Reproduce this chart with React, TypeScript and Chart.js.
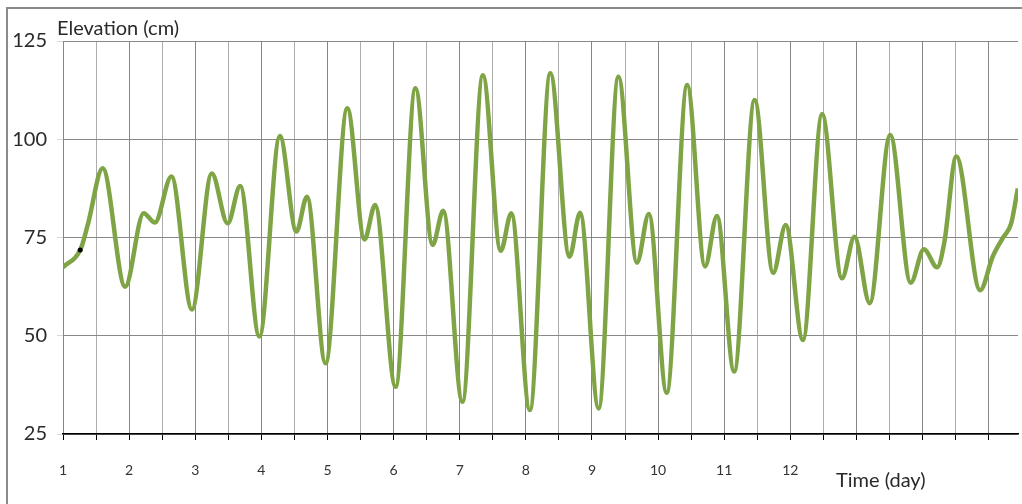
import React, { useEffect, useRef } from "react";
import { Chart, registerables } from "chart.js";

Chart.register(...registerables);

const days = [1.0, 1.27, 1.38, 1.6, 1.94, 2.22, 2.39, 2.64, 2.95, 3.25, 3.49, 3.68, 3.97, 4.28, 4.53, 4.69, 4.97, 5.3, 5.56, 5.72, 6.03, 6.33, 6.59, 6.75, 7.04, 7.35, 7.62, 7.78, 8.06, 8.37, 8.66, 8.82, 9.1, 9.4, 9.68, 9.86, 10.13, 10.44, 10.71, 10.89, 11.15, 11.46, 11.74, 11.93, 12.19, 12.48, 12.78, 12.97, 13.2, 13.51, 13.82, 14.02, 14.22, 14.33, 14.51, 14.87, 15.06, 15.21, 15.34, 15.44];
const elevation = [67.4, 72.2, 78.6, 92.6, 62.5, 81.2, 78.8, 90.5, 56.7, 91.3, 78.6, 88.1, 49.8, 100.8, 76.5, 85.4, 43.0, 107.9, 74.5, 83.3, 37.0, 113.0, 73.1, 81.8, 33.2, 116.3, 71.6, 81.2, 31.1, 116.8, 70.1, 81.3, 31.5, 115.9, 68.6, 81.0, 35.5, 113.8, 67.6, 80.5, 40.9, 110.0, 66.0, 78.2, 48.9, 106.4, 64.6, 75.2, 58.3, 101.1, 63.5, 72.0, 67.4, 73.9, 95.6, 61.6, 70.1, 74.8, 78.6, 87.5];
const markerDay = [1.26];
const markerElev = [71.8];
const xLabels = [1, 2, 3, 4, 5, 6, 7, 8, 9, 10, 11, 12];
const yTicks = [25, 50, 75, 100, 125];
const yTitle = "Elevation (cm)";
const xTitle = "Time (day)";

const W = 1022;
const H = 504;

export default function App() {
  const ref = useRef<HTMLCanvasElement | null>(null);
  useEffect(() => {
    const canvas = ref.current;
    if (!canvas) return;
    const decor = {
      id: "decor",
      afterDraw(chart: any) {
        const ctx = chart.ctx;
        ctx.save();
        ctx.strokeStyle = "#8a8a8a";
        ctx.lineWidth = 2;
        ctx.beginPath();
        ctx.moveTo(7, H);
        ctx.lineTo(7, 8);
        ctx.lineTo(W, 8);
        ctx.stroke();
        ctx.fillStyle = "#2a2a2a";
        ctx.font = "20px Lato";
        ctx.textAlign = "left";
        ctx.textBaseline = "alphabetic";
        ctx.fillText(yTitle, 57, 35);
        ctx.fillText(xTitle, 836, 487);
        ctx.restore();
      },
    };
    const chart = new Chart(canvas, {
      type: "line",
      data: {
        datasets: [
          {
            data: days.map((d, i) => ({ x: d, y: elevation[i] })),
            borderColor: "#7fa446",
            borderWidth: 4.5,
            pointRadius: 0,
            cubicInterpolationMode: "monotone",
            fill: false,
            order: 2,
          },
          {
            data: markerDay.map((d, i) => ({ x: d, y: markerElev[i] })),
            showLine: false,
            pointRadius: 2.5,
            pointBackgroundColor: "#000",
            pointBorderWidth: 0,
            order: 1,
          },
        ],
      },
      options: {
        animation: false,
        responsive: false,
        devicePixelRatio: 1,
        layout: { padding: { left: 0, top: 41, right: 0, bottom: 0 } },
        plugins: { legend: { display: false }, tooltip: { enabled: false } },
        scales: {
          x: {
            type: "linear",
            min: 1,
            max: 15.443,
            afterBuildTicks: (s: any) => {
              const t = [];
              for (let v = 1; v <= 15.44; v += 0.5) t.push({ value: v });
              s.ticks = t;
            },
            afterFit: (s: any) => {
              s.height = H - 434;
            },
            grid: {
              color: (c: any) => (Number.isInteger(c.tick?.value) ? "#878787" : "#adadad"),
              lineWidth: 1,
              tickLength: 6,
              tickColor: "#000",
            },
            border: { display: true, color: "#000", width: 1.5 },
            ticks: {
              autoSkip: false,
              maxRotation: 0,
              padding: 22,
              color: "#333",
              font: { family: "Lato", size: 14 },
              callback: (v: any) => (xLabels.includes(Number(v)) ? String(v) : ""),
            },
          },
          y: {
            min: 25,
            max: 125,
            afterBuildTicks: (s: any) => {
              s.ticks = yTicks.map((v) => ({ value: v }));
            },
            afterFit: (s: any) => {
              s.width = 63;
            },
            grid: { color: "#878787", lineWidth: 1, tickLength: 6, tickColor: "#d8d8d8" },
            border: { display: false },
            ticks: {
              padding: 10,
              color: "#2a2a2a",
              font: { family: "Lato", size: 20 },
            },
          },
        },
      },
      plugins: [decor],
    } as any);
    return () => chart.destroy();
  }, []);
  return (
    <div style={{ position: "absolute", left: 0, top: 0, width: W, height: H, background: "#fff" }}>
      <canvas ref={ref} width={W} height={H} style={{ display: "block" }} />
    </div>
  );
}
